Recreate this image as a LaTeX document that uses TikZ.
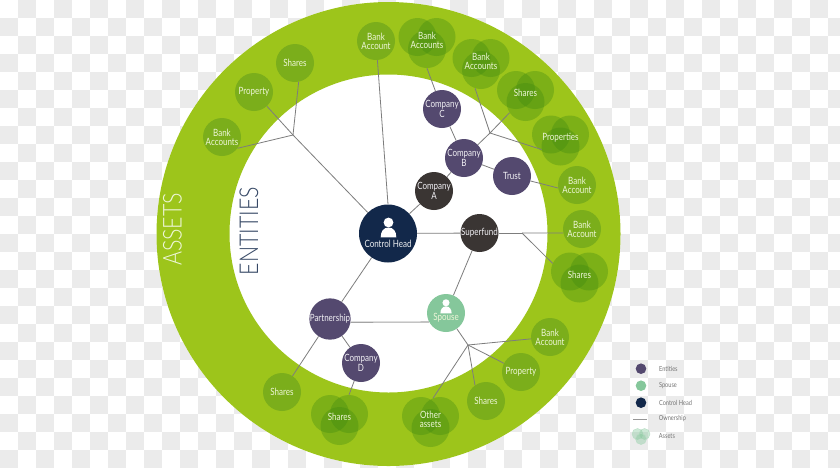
\documentclass[tikz,border=0pt]{standalone}
\usepackage{fontspec}
\setmainfont[FakeStretch=0.8]{Lato}
\newfontfamily\titlefont[FakeStretch=0.82]{Lato Light}
\usepackage{tikz}
\usetikzlibrary{positioning}

\definecolor{ringgreen}{HTML}{9DC51B}
\definecolor{assetgreen}{HTML}{7BAE1B}
\definecolor{vennshade}{HTML}{3F8A10}
\definecolor{entitypurple}{HTML}{54496F}
\definecolor{trustdark}{HTML}{3A3533}
\definecolor{headnavy}{HTML}{12284A}
\definecolor{spousegreen}{HTML}{85C79B}
\definecolor{linegrey}{HTML}{7D7D7D}
\definecolor{checkgrey}{HTML}{EBEBEB}
\definecolor{palegreen}{HTML}{EEF6D8}

\newcommand{\venn}[4]{
    \node[venncircle] (#1l) at (#2-9.5,#3-3) {};
    \node[venncircle] (#1r) at (#2+9.5,#3-3) {};
    \node[venncircle] (#1b) at (#2,#3+9) {};
    \node[assettext] (#1) at (#2,#3) {#4};
}
\newcommand{\person}[3]{
    \begin{scope}[shift={(#1,#2)},scale=#3]
        \fill[white] (0,-11) circle[radius=4.9];
        \fill[white] (-7.8,3.8) .. controls (-7.8,-2) and (-5,-6) .. (0,-6) .. controls (5,-6) and (7.8,-2) .. (7.8,3.8) -- cycle;
    \end{scope}
}

\begin{document}
\begin{tikzpicture}[x=1pt,y=-1pt,
    link/.style={draw=linegrey,line width=0.8pt},
    assetbase/.style={circle,inner sep=0pt,minimum size=38pt},
    asset/.style={assetbase,fill=assetgreen,text=palegreen,align=center,font=\fontsize{10}{8.8}\selectfont},
    venncircle/.style={assetbase,fill=vennshade,fill opacity=0.35},
    assettext/.style={inner sep=0pt,text=palegreen,align=center,font=\fontsize{10}{8.8}\selectfont},
    entity/.style={circle,inner sep=0pt,minimum size=38pt,fill=entitypurple,text=white!92!entitypurple,align=center,font=\fontsize{10}{8.8}\selectfont},
    darkentity/.style={entity,fill=trustdark},
    legenddot/.style={circle,inner sep=0pt,minimum size=10.6pt},
    legendtext/.style={inner sep=0pt,text=black!55,font=\fontsize{7}{8}\selectfont}]

    \useasboundingbox (0,0) rectangle (840,467);
    \clip (0,0) rectangle (840,467);

    % background squares
    \foreach \col in {0,...,46}
        \foreach \row in {0,...,25} {
            \pgfmathparse{int(mod(\col+\row,2))}
            \ifnum\pgfmathresult=1
                \fill[checkgrey] (\col*18,\row*18) rectangle ++(18,18);
            \fi
        }

    % ring
    \fill[white] (388.5,234) circle[radius=232];
    \fill[ringgreen,even odd rule] (388.5,234) circle[radius=232] (388.5,233.5) circle[radius=159];

    \node[rotate=90,inner sep=0pt,text=palegreen,font=\titlefont\fontsize{26}{26}\selectfont] (assetstitle) at (172.5,229.5) {ASSETS};
    \node[rotate=90,inner sep=0pt,text=headnavy!85,font=\titlefont\fontsize{26}{26}\selectfont] (entitiestitle) at (249,231) {ENTITIES};

    % assets, single
    \node[asset] (bankacc)  at (376,41)  {Bank\\Account};
    \node[asset] (shareone) at (295,63)  {Shares};
    \node[asset] (propone)  at (254,92)  {Property};
    \node[asset] (bankone)  at (222,137) {Bank\\Accounts};
    \node[asset] (banktrust) at (577,185) {Bank\\Account};
    \node[asset] (banksuper) at (582,229) {Bank\\Account};
    \node[asset] (bankspouse) at (550,337) {Bank\\Account};
    \node[asset] (propspouse) at (521,372) {Property};
    \node[asset] (sharespouse) at (486,401) {Shares};
    \node[asset] (sharepart) at (282,392) {Shares};

    % assets, overlapping
    \venn{banktwo}{427}{40}{Bank\\Accounts}
    \venn{bankthree}{481}{61}{Bank\\Accounts}
    \venn{sharetwo}{525.5}{93}{Shares}
    \venn{properties}{560.5}{137.5}{Properties}
    \venn{sharesuper}{579.5}{274.5}{Shares}
    \venn{otherassets}{430.5}{419}{Other\\assets}
    \venn{sharecomp}{339.5}{417}{Shares}

    % entities
    \node[circle,inner sep=0pt,minimum size=58pt,fill=headnavy] (head) at (388,233.5) {};
    \person{388.5}{233.5}{1}
    \node[inner sep=0pt,text=white!92!headnavy,font=\fontsize{10}{10}\selectfont] (headtext) at (388,243.5) {Control Head};

    \node[entity] (compc) at (442,109) {Company\\C};
    \node[entity] (compb) at (464,158) {Company\\B};
    \node[entity] (trust) at (512,176) {Trust};
    \node[darkentity] (compa) at (434,191) {Company\\A};
    \node[darkentity] (superfund) at (479.5,233) {Superfund};
    \node[entity] (partnership) at (330,319) {Partnership};
    \node[entity] (compd) at (361,363) {Company\\D};
    \node[circle,inner sep=0pt,minimum size=38pt,fill=spousegreen] (spouse) at (446,313) {};
    \person{446}{310.7}{0.72}
    \node[inner sep=0pt,text=palegreen,font=\fontsize{10}{10}\selectfont] (spousetext) at (446,318) {Spouse};

    % branch points
    \coordinate (forkleft) at (293,135);
    \coordinate (forkb) at (490,133);
    \coordinate (forksuper) at (522,233);
    \coordinate (forkspouse) at (468,345);

    \path[link] (head) edge (forkleft)
        (head.north) edge (bankacc)
        (forkleft) edge (propone)
        (forkleft) edge (shareone.-79)
        (forkleft) edge (bankone.-36)
        (head) edge (compa)
        (compa) edge (compb)
        (compb) edge (compc)
        (compc) edge (banktwob.270)
        (compb) edge (trust)
        (trust.-15) edge (banktrust.189)
        (compb) edge (forkb)
        (forkb) edge (sharetwob.214)
        (forkb) edge (bankthreeb.252)
        (forkb) edge (propertiesb.189);

    \path[link] (head) edge (superfund)
        (superfund) edge (forksuper)
        (forksuper) edge (banksuper.192)
        (forksuper) edge (sharesuperl.155)
        (superfund) edge (spouse)
        (spouse) edge (forkspouse)
        (forkspouse) edge (bankspouse)
        (forkspouse) edge (propspouse)
        (forkspouse) edge (sharespouse.125)
        (forkspouse) edge (otherassetsr.111);

    \path[link] (head) edge (partnership)
        (partnership) edge (compd)
        (partnership) edge (sharepart)
        (compd) edge (sharecompr.90);
    \path[draw=linegrey!70,line width=1.1pt] (partnership.-9) edge (spouse.208);

    % legend
    \node[legenddot,fill=entitypurple] (lgentity) at (641,368.7) {};
    \node[legenddot,fill=spousegreen] (lgspouse) at (641,385.7) {};
    \node[legenddot,fill=headnavy] (lghead) at (641,402.7) {};
    \coordinate (lgowna) at (633,419);
    \coordinate (lgownb) at (647,419);
    \path[draw=linegrey!80,line width=1pt] (lgowna) edge (lgownb);
    \node[legenddot,minimum size=11pt,fill=spousegreen,fill opacity=0.4,draw=spousegreen!60] (lgassetl) at (637.5,434) {};
    \node[legenddot,minimum size=11pt,fill=spousegreen,fill opacity=0.4,draw=spousegreen!60] (lgassetr) at (644.5,434) {};
    \node[legenddot,minimum size=11pt,fill=spousegreen,fill opacity=0.4,draw=spousegreen!60] (lgassetb) at (641,439) {};

    \node[legendtext,right=12.4pt of lgentity] (lgtxta) {Entities};
    \node[legendtext,right=12.4pt of lgspouse] (lgtxtb) {Spouse};
    \node[legendtext,right=12.4pt of lghead] (lgtxtc) {Control Head};
    \node[legendtext,right=11.7pt of lgownb] (lgtxtd) {Ownership};
    \node[legendtext,anchor=west] (lgtxte) at (658.7,436) {Assets};
\end{tikzpicture}
\end{document}
